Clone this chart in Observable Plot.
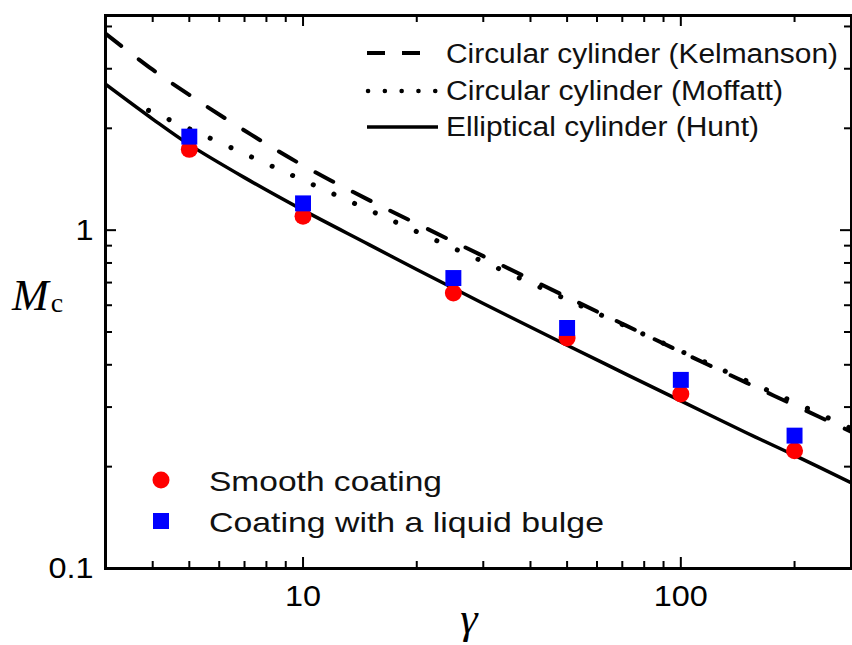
<!DOCTYPE html>
<html>
<head>
<meta charset="utf-8">
<script src="https://cdn.jsdelivr.net/npm/d3@7"></script>
<script src="https://cdn.jsdelivr.net/npm/@observablehq/plot@0.6"></script>
<style>
  html, body { margin: 0; padding: 0; background: #fff; }
  #chart svg { display: block; }
</style>
</head>
<body>
<div id="chart"></div>
<script>
// ---- Data ----
const gammaCurve = [3, 4, 5, 7, 10, 15, 20, 30, 50, 70, 100, 150, 200, 283];
const huntM      = [2.70, 2.13, 1.79, 1.43, 1.146, 0.905, 0.765, 0.607, 0.457, 0.380, 0.313, 0.251, 0.216, 0.179];
const kelmansonM = [3.81, 2.98, 2.51, 1.97, 1.553, 1.225, 1.045, 0.838, 0.634, 0.529, 0.437, 0.353, 0.3035, 0.2535];
const gammaMoffatt = [3.9, 5, 7, 10, 15, 20, 30, 50, 70, 100, 150, 200, 283];
const moffattM     = [2.26, 1.994, 1.682, 1.405, 1.145, 0.990, 0.807, 0.6235, 0.526, 0.439, 0.358, 0.3097, 0.259];

const gammaData = [5, 10, 25, 50, 100, 200];
const smoothM   = [1.733, 1.10, 0.652, 0.480, 0.328, 0.223];
const bulgeM    = [1.89, 1.20, 0.722, 0.514, 0.361, 0.247];

const xMajor = [10, 100];
const xMinor = [4, 5, 6, 7, 8, 9, 20, 30, 40, 50, 60, 70, 80, 90, 200];
const yMajor = [0.1, 1];
const yMinor = [0.2, 0.3, 0.4, 0.5, 0.6, 0.7, 0.8, 0.9, 2, 3, 4];

const legendLines = [
  {label: "Circular cylinder (Kelmanson)", dash: "18,17", cap: "butt", x1: 367, x2: 420, w: 4},
  {label: "Circular cylinder (Moffatt)", dash: "0.1,16.7", cap: "round", x1: 368, x2: 436, w: 4.5},
  {label: "Elliptical cylinder (Hunt)", dash: null, cap: "butt", x1: 367, x2: 438, w: 3.5}
];
const legendPoints = [
  {label: "Smooth coating", color: "#ff0000", symbol: "circle"},
  {label: "Coating with a liquid bulge", color: "#0000ff", symbol: "square"}
];

// ---- Build tables ----
const hunt = gammaCurve.map((g, i) => ({g, m: huntM[i]}));
const kel = gammaCurve.map((g, i) => ({g, m: kelmansonM[i]}));
const mof = gammaMoffatt.map((g, i) => ({g, m: moffattM[i]}));
const smooth = gammaData.map((g, i) => ({g, m: smoothM[i]}));
const bulge = gammaData.map((g, i) => ({g, m: bulgeM[i]}));

const W = 852, H = 645, mL = 105, mR = 1, mT = 15, mB = 77;
const pw = W - mL - mR, ph = H - mT - mB;
const majorLen = 11, minorLen = 7;

const plot = Plot.plot({
  width: W, height: H,
  marginLeft: mL, marginRight: mR, marginTop: mT, marginBottom: mB,
  style: {fontFamily: "'Liberation Sans', Arial, sans-serif", background: "#fff", color: "#000"},
  x: {type: "log", domain: [3, 283], label: null},
  y: {type: "log", domain: [0.1, 4.31], label: null},
  marks: [
    Plot.line(kel, {x: "g", y: "m", stroke: "#000", strokeWidth: 4, strokeDasharray: "20,22", curve: "catmull-rom", clip: true}),
    Plot.line(mof, {x: "g", y: "m", stroke: "#000", strokeWidth: 5, strokeDasharray: "0.1,22.5", strokeLinecap: "round", curve: "catmull-rom", clip: true}),
    Plot.line(hunt, {x: "g", y: "m", stroke: "#000", strokeWidth: 3.5, curve: "catmull-rom", clip: true}),
    Plot.dot(smooth, {x: "g", y: "m", r: 8.5, fill: "#ff0000", stroke: "none", symbol: "circle"}),
    Plot.dot(bulge, {x: "g", y: "m", r: 9, fill: "#0000ff", stroke: "none", symbol: "square"}),
    // inward ticks, all four sides
    Plot.ruleX(xMajor, {x: d => d, insetTop: ph - majorLen, stroke: "#000", strokeWidth: 2}),
    Plot.ruleX(xMajor, {x: d => d, insetBottom: ph - majorLen, stroke: "#000", strokeWidth: 2}),
    Plot.ruleX(xMinor, {x: d => d, insetTop: ph - minorLen, stroke: "#000", strokeWidth: 2}),
    Plot.ruleX(xMinor, {x: d => d, insetBottom: ph - minorLen, stroke: "#000", strokeWidth: 2}),
    Plot.ruleY(yMajor, {y: d => d, insetRight: pw - majorLen, stroke: "#000", strokeWidth: 2}),
    Plot.ruleY(yMajor, {y: d => d, insetLeft: pw - majorLen, stroke: "#000", strokeWidth: 2}),
    Plot.ruleY(yMinor, {y: d => d, insetRight: pw - minorLen, stroke: "#000", strokeWidth: 2}),
    Plot.ruleY(yMinor, {y: d => d, insetLeft: pw - minorLen, stroke: "#000", strokeWidth: 2}),
    Plot.axisX(xMajor, {tickSize: 0, tickPadding: 16, fontSize: 30, tickFormat: d => String(d), label: null}),
    Plot.axisY(yMajor, {tickSize: 0, tickPadding: 12, fontSize: 30, tickFormat: d => String(d), label: null}),
    Plot.frame({stroke: "#000", strokeWidth: 3})
  ]
});

document.getElementById("chart").appendChild(plot);

const svg = d3.select(plot);

// Stretch tick labels slightly (reference text is horizontally wide)
svg.selectAll("g[aria-label='x-axis tick label'] text, g[aria-label='y-axis tick label'] text").each(function() {
  const len = this.getComputedTextLength();
  d3.select(this).attr("textLength", len * 1.08).attr("lengthAdjust", "spacingAndGlyphs");
});

// Axis titles
const yl = svg.append("text")
  .attr("x", 12).attr("y", 310)
  .attr("text-anchor", "start")
  .attr("font-family", "'Liberation Serif', 'DejaVu Serif', serif")
  .attr("font-size", 44).attr("fill", "#000");
yl.append("tspan").attr("font-style", "italic").text("M");
yl.append("tspan").attr("font-size", 28).attr("dy", 2).attr("dx", 2).text("c");

svg.append("text")
  .attr("x", 469).attr("y", 633)
  .attr("text-anchor", "middle")
  .attr("font-family", "'Liberation Serif', 'DejaVu Serif', serif")
  .attr("font-style", "italic")
  .attr("font-size", 44).attr("fill", "#000")
  .text("γ");

// Top-right legend (line styles)
const topRows = [53, 91, 127];
const topBase = [63, 100, 136];
const topLens = [392, 337, 313];
const lg = svg.append("g").attr("text-anchor", "start");
legendLines.forEach((d, i) => {
  const ln = lg.append("line")
    .attr("x1", d.x1).attr("x2", d.x2)
    .attr("y1", topRows[i]).attr("y2", topRows[i])
    .attr("stroke", "#000")
    .attr("stroke-width", d.w)
    .attr("stroke-linecap", d.cap);
  if (d.dash) ln.attr("stroke-dasharray", d.dash);
  lg.append("text")
    .attr("x", 446).attr("y", topBase[i])
    .attr("text-anchor", "start")
    .attr("font-family", "'Liberation Sans', Arial, sans-serif")
    .attr("font-size", 27).attr("fill", "#111")
    .attr("textLength", topLens[i]).attr("lengthAdjust", "spacingAndGlyphs")
    .text(d.label);
});

// Bottom-left legend (markers)
const botRows = [480, 521];
const botBase = [491, 532];
const botLens = [233, 395];
legendPoints.forEach((d, i) => {
  if (d.symbol === "circle") {
    lg.append("circle").attr("cx", 161).attr("cy", botRows[i]).attr("r", 8.5).attr("fill", d.color);
  } else {
    lg.append("rect").attr("x", 153).attr("y", botRows[i] - 8).attr("width", 16).attr("height", 16).attr("fill", d.color);
  }
  lg.append("text")
    .attr("x", 209).attr("y", botBase[i])
    .attr("text-anchor", "start")
    .attr("font-family", "'Liberation Sans', Arial, sans-serif")
    .attr("font-size", 28).attr("fill", "#111")
    .attr("textLength", botLens[i]).attr("lengthAdjust", "spacingAndGlyphs")
    .text(d.label);
});
</script>
</body>
</html>
